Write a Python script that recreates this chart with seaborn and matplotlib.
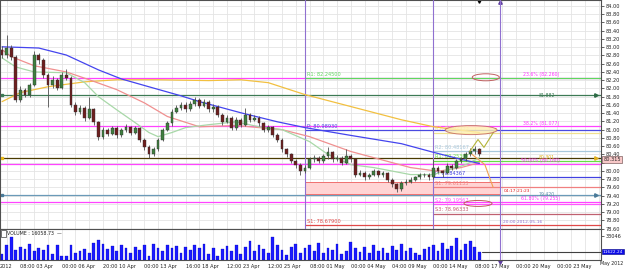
import numpy as np
import matplotlib

matplotlib.use("Agg")
import matplotlib.pyplot as plt
from matplotlib.patches import Ellipse, Rectangle
import seaborn as sns

# ---- candles (one bar per index) ----
first_open = 82.94
closes = [82.81, 82.98, 82.77, 81.73, 81.97, 81.85, 82.09, 82.81, 82.69, 82.33,
          82.09, 82.21, 82.02, 82.33, 82.26, 81.61, 81.44, 81.53, 81.29, 81.49,
          81.19, 80.81, 81.00, 80.90, 81.05, 80.86, 81.00, 81.07, 80.93, 81.03,
          80.76, 80.57, 80.40, 80.52, 80.76, 81.00, 81.15, 81.44, 81.53, 81.61,
          81.49, 81.63, 81.73, 81.58, 81.68, 81.49, 81.56, 81.36, 81.19, 81.29,
          81.05, 81.24, 81.12, 81.36, 81.24, 81.29, 81.15, 81.00, 81.07, 80.88,
          80.76, 80.52, 80.40, 80.23, 80.15, 79.99, 80.08, 80.28, 80.32, 80.23,
          80.35, 80.45, 80.28, 80.32, 80.20, 80.37, 80.28, 79.91, 79.96, 79.84,
          79.91, 79.99, 79.89, 79.94, 79.79, 79.67, 79.55, 79.70, 79.74, 79.79,
          79.84, 79.89, 79.91, 79.84, 80.08, 79.99, 79.94, 80.13, 80.08, 80.23,
          80.28, 80.40, 80.47, 80.52, 80.40]
highs = [83.02, 83.30, 83.05, 82.82, 82.05, 82.02, 82.14, 82.90, 82.86, 82.74,
         82.38, 82.30, 82.26, 82.40, 82.48, 82.30, 81.68, 81.60, 81.57, 81.80,
         81.52, 81.22, 81.06, 81.05, 81.10, 81.08, 81.05, 81.14, 81.10, 81.08,
         81.06, 80.80, 80.62, 80.58, 80.80, 81.05, 81.20, 81.50, 81.60, 81.68,
         81.66, 81.70, 81.80, 81.76, 81.74, 81.72, 81.62, 81.60, 81.40, 81.35,
         81.32, 81.30, 81.28, 81.53, 81.40, 81.35, 81.32, 81.18, 81.12, 81.10,
         80.92, 80.80, 80.56, 80.44, 80.28, 80.18, 80.14, 80.34, 80.38, 80.36,
         80.42, 80.57, 80.48, 80.38, 80.36, 80.52, 80.42, 80.30, 80.02, 80.00,
         79.96, 80.05, 80.02, 80.00, 79.97, 79.82, 79.70, 79.75, 79.80, 79.84,
         79.88, 79.94, 79.96, 79.94, 80.28, 80.12, 80.03, 80.18, 80.17, 80.28,
         80.34, 80.46, 80.55, 80.61, 80.56]
lows = [82.74, 82.75, 82.70, 81.66, 81.68, 81.78, 81.80, 82.05, 82.60, 82.26,
        81.56, 82.02, 81.95, 81.98, 82.20, 81.55, 81.36, 81.38, 81.22, 81.25,
        81.12, 80.74, 80.77, 80.84, 80.86, 80.80, 80.82, 80.95, 80.88, 80.90,
        80.70, 80.50, 80.32, 80.36, 80.48, 80.72, 80.96, 81.10, 81.40, 81.48,
        81.42, 81.45, 81.58, 81.52, 81.54, 81.44, 81.42, 81.30, 81.12, 81.15,
        80.98, 81.00, 81.06, 81.08, 81.18, 81.20, 81.08, 80.94, 80.95, 80.82,
        80.70, 80.46, 80.34, 80.18, 80.08, 79.89, 79.95, 80.04, 80.22, 80.18,
        80.20, 80.30, 80.22, 80.24, 80.15, 80.16, 80.22, 79.86, 79.87, 79.79,
        79.80, 79.88, 79.84, 79.86, 79.74, 79.62, 79.48, 79.52, 79.66, 79.70,
        79.75, 79.80, 79.85, 79.79, 79.80, 79.94, 79.84, 79.92, 80.02, 80.05,
        80.20, 80.24, 80.36, 80.42, 80.35]
volumes = [8000, 20000, 32000, 14000, 18000, 15000, 22000, 12000, 17000, 14000,
           21000, 8000, 20000, 6000, 5000, 20000, 10000, 13000, 15000, 9000,
           24000, 28000, 22000, 15000, 19000, 12000, 20000, 16000, 9000, 18000,
           14000, 20000, 6000, 22000, 17000, 12000, 21000, 16000, 19000, 10000,
           18000, 14000, 20000, 16000, 22000, 8000, 17000, 6000, 15000, 19000,
           12000, 21000, 8000, 18000, 26000, 12000, 20000, 15000, 9000, 32000,
           20000, 14000, 7000, 18000, 22000, 10000, 16000, 21000, 13000, 24000,
           9000, 17000, 14000, 22000, 8000, 12000, 25000, 16000, 11000, 18000,
           10000, 20000, 13000, 17000, 9000, 19000, 14000, 22000, 12000, 16000,
           10000, 7000, 15000, 18000, 21000, 12000, 24000, 15000, 19000, 30000,
           14000, 22000, 26000, 18000, 11622]

# ---- moving averages (bar index, price) ----
ma_blue_x = [0, 8, 14, 21, 26, 32, 39, 43, 52, 60, 66, 76, 87, 94, 100, 104]
ma_blue_y = [83.01, 82.98, 82.81, 82.45, 82.23, 82.04, 81.82, 81.68, 81.41, 81.19,
             81.05, 80.86, 80.66, 80.45, 80.28, 80.18]
ma_gold_x = [0, 4, 10, 18, 25, 34, 45, 52, 58, 66, 76, 87, 94, 104]
ma_gold_y = [81.68, 81.90, 82.04, 82.16, 82.21, 82.21, 82.19, 82.21, 82.14, 81.85,
             81.56, 81.24, 81.07, 80.93]
ma_red_x = [0, 2, 7, 14, 19, 25, 31, 36, 43, 51, 61, 67, 76, 89, 95, 100, 104]
ma_red_y = [82.94, 82.77, 82.55, 82.40, 82.21, 81.97, 81.65, 81.32, 81.07, 81.10,
            81.00, 80.83, 80.47, 80.08, 79.99, 80.08, 80.20]
ma_green_x = [0, 3, 7, 14, 18, 21, 25, 29, 32, 34, 37, 40, 45, 51, 56, 61, 67, 71,
              76, 81, 89, 94, 101, 104]
ma_green_y = [82.74, 82.52, 82.40, 82.38, 82.14, 81.80, 81.48, 81.17, 80.93, 80.83,
              80.93, 81.05, 81.12, 81.19, 81.07, 81.00, 80.71, 80.40, 80.15, 80.08,
              79.91, 79.91, 80.15, 80.32]

# ---- x axis labels ----
tick_pos = [4, 13, 22, 31, 40, 49, 58, 67, 76, 85, 94, 103, 112, 121]
tick_labels = ["08:00 03 Apr", "00:00 06 Apr", "20:00 10 Apr", "00:00 13 Apr",
               "16:00 18 Apr", "12:00 23 Apr", "12:00 25 Apr", "08:00 01 May",
               "00:00 04 May", "04:00 09 May", "00:00 14 May", "08:00 17 May",
               "00:00 20 May", "00:00 23 May"]

# ---- levels ----
fib_levels = [82.260, 81.077, 80.160, 79.255]
fib_labels = ["23.6% (82.260)", "38.2% (81.077)", "50.00% (80.160)", "61.80% (79.255)"]
weekly_pivots = [82.245, 80.9893, 78.679]
weekly_labels = ["R1: 82.24500", "P: 80.98930", "S1: 78.67900"]
weekly_colors = ["#5fd85f", "#4a4ae0", "#e04848"]
daily_pivots = [80.93, 80.48167, 80.25, 79.84367, 79.61133, 79.19567, 78.96333]
daily_labels = ["R3: 80.92733", "R2: 80.48167", "R1: 80.25367", "P: 79.84367",
                "S1: 79.61133", "S2: 79.19567", "S3: 78.96333"]
daily_colors = ["#f0e090", "#a8c8dc", "#66dd44", "#4040e0", "#f08080", "#ff55ff", "#c06070"]

line_882 = 81.84
line_bid = 80.315
line_420 = 79.42
vol_last = 11622.24

x_week = 66
x_day = 94
x_now = 108.5

sns.set_style("white")
plt.rcParams["font.family"] = ["DejaVu Sans"]

fig = plt.figure(figsize=(6.25, 2.69), dpi=100)
ax = fig.add_axes([0, 40 / 269, 601 / 625, 229 / 269])
axv = fig.add_axes([0, 9 / 269, 601 / 625, 31 / 269], sharex=ax)

xmin, xmax = -0.45, 130.5
ax.set_xlim(xmin, xmax)
ax.set_ylim(78.59, 84.145)

# grid
grid_x = np.arange(1, 131, 3)
for g in grid_x:
    ax.axvline(g, color="#e4e4e4", lw=0.6, zorder=0)
    axv.axvline(g, color="#e4e4e4", lw=0.6, zorder=0)
price_ticks = np.round(np.arange(78.60, 84.01, 0.2), 2)
for p in price_ticks:
    ax.axhline(p, color="#e4e4e4", lw=0.6, zorder=0)

# horizontal levels
for p, lab in zip(fib_levels, fib_labels):
    ax.axhline(p, color="#ff44ff", lw=0.9, zorder=2)
    ax.text(121.5, p + 0.02, lab, color="#ff33ff", fontsize=3.3, ha="right", va="bottom")

ax.axhline(line_882, color="#3d7a55", lw=0.9, zorder=2)
ax.text(120.5, line_882, "81.882", color="#3d7a55", fontsize=3.3, ha="right", va="center")
ax.plot([121, 129.5], [line_882, line_882], color="#3d7a55", lw=0.6)
ax.plot(129.5, line_882, marker=">", ms=2.5, color="#2d6a45")
ax.plot(0, line_882, marker="s", ms=2, color="#3d7a55")

ax.axhline(line_bid, color="#4a3a00", lw=0.9, zorder=2)
ax.text(120.5, line_bid + 0.01, "80.301", color="#e0b020", fontsize=3.3, ha="right", va="center")
ax.plot(129.5, line_bid, marker=">", ms=2.5, color="#e0b020")
ax.plot(0, line_bid, marker="s", ms=2, color="#e8b818")

ax.axhline(line_420, color="#6a9ab8", lw=0.9, zorder=2)
ax.text(120.5, line_420, "79.420", color="#5a8aa8", fontsize=3.3, ha="right", va="center")
ax.plot(129.5, line_420, marker=">", ms=2.5, color="#4a7a98")
ax.plot(0, line_420, marker="s", ms=2, color="#4a7a98")

# pink zone
ax.add_patch(Rectangle((x_week, 79.45), x_now - x_week, 0.27, facecolor="#ffd4d4",
                       edgecolor="none", zorder=1))
ax.plot([x_week, x_now], [79.72, 79.72], color="#f07070", lw=0.7)
ax.plot([x_week, x_now], [79.45, 79.45], color="#f07070", lw=0.7)
ax.plot([x_week, x_week], [79.45, 79.72], color="#f07070", lw=0.7)

# weekly pivots
for p, lab, c in zip(weekly_pivots, weekly_labels, weekly_colors):
    ax.plot([x_week, xmax], [p, p], color=c, lw=0.9, zorder=2)
    ax.text(x_week + 0.4, p + 0.03, lab, color=c, fontsize=3.6, ha="left", va="bottom")

# daily pivots
for p, lab, c in zip(daily_pivots, daily_labels, daily_colors):
    ax.plot([x_day, xmax], [p, p], color=c, lw=0.9, zorder=2)
    ax.text(x_day + 0.4, p + 0.03, lab, color=c, fontsize=3.6, ha="left", va="bottom")

# verticals
for xv in (x_week, x_day, x_now):
    ax.axvline(xv, color="#9070d0", lw=0.8, zorder=3)
axv.axvline(x_now, color="#9070d0", lw=0.8, zorder=3)
ax.plot(x_now, 84.10, marker="^", ms=2.5, color="#6040a0", clip_on=False)
ax.plot(104, 84.12, marker="v", ms=2.5, color="black", clip_on=False)
ax.text(x_now + 0.6, 78.70, "20:00 2012-05-16", color="#9070d0", fontsize=3.2, va="bottom")
ax.text(x_now + 0.8, 79.47, "04:17:21:23", color="#e02020", fontsize=3.2, va="bottom")

# moving averages
sns.lineplot(x=ma_gold_x, y=ma_gold_y, ax=ax, color="#f2c040", lw=0.9, zorder=3)
sns.lineplot(x=ma_red_x, y=ma_red_y, ax=ax, color="#f09090", lw=0.9, zorder=3)
sns.lineplot(x=ma_green_x, y=ma_green_y, ax=ax, color="#a8d8a8", lw=0.9, zorder=3)
sns.lineplot(x=ma_blue_x, y=ma_blue_y, ax=ax, color="#4444ee", lw=0.9, zorder=3)

# candles
opens = [first_open] + closes[:-1]
idx = np.arange(len(closes))
for i in idx:
    o, c = opens[i], closes[i]
    col = "#3f7f3f" if c >= o else "#6e1f1f"
    ax.vlines(i, lows[i], highs[i], color="#505050", lw=0.6, zorder=4)
    ax.add_patch(Rectangle((i - 0.3, min(o, c)), 0.6, max(abs(c - o), 0.01),
                           facecolor=col, edgecolor="#303030", lw=0.3, zorder=5))

# projection lines and ellipses
ax.plot([101.9, 103.7, 105.0, 107.6], [80.47, 80.76, 80.57, 81.03], color="#b4b43a", lw=0.8, zorder=6)
ax.plot([102.4, 105.2, 107.0], [80.40, 80.15, 79.60], color="#f0a050", lw=0.8, zorder=6)
ax.add_patch(Ellipse((105.4, 82.27), 5.9, 0.17, facecolor="none", edgecolor="#c06060", lw=0.7, zorder=6))
ax.add_patch(Ellipse((102.2, 80.99), 11.3, 0.22, facecolor="#fff0b0", alpha=0.8,
                     edgecolor="#c06060", lw=0.7, zorder=6))
ax.add_patch(Ellipse((103.7, 79.21), 6.1, 0.145, facecolor="none", edgecolor="#c06060", lw=0.7, zorder=6))

# right price axis (80.20 label sits under the bid box)
ax.yaxis.tick_right()
ax.set_yticks(price_ticks)
ax.set_yticklabels(["" if abs(p - 80.20) < 1e-6 else f"{p:.2f}" for p in price_ticks],
                   fontsize=3.6, color="#202020")
ax.tick_params(axis="y", length=2, width=0.5, pad=1.5, right=True)
ax.tick_params(axis="x", bottom=False, labelbottom=False)
ax.text(1.004, line_bid - 0.04, "80.315", transform=ax.get_yaxis_transform(), fontsize=3.6,
        va="center", ha="left", bbox=dict(boxstyle="square,pad=0.2", fc="#f8c8c8", ec="#604040", lw=0.4))
for s in ax.spines.values():
    s.set_color("#505050")
    s.set_linewidth(0.8)

# volume panel
axv.bar(idx, volumes, width=0.6, color="#1a1aff", edgecolor="#0000aa", lw=0.2, zorder=3)
axv.set_ylim(0, 42700)
axv.plot([idx[-1] + 0.5, xmax], [vol_last, vol_last], color="#404040", lw=0.8)
axv.yaxis.tick_right()
axv.set_yticks([33046])
axv.set_yticklabels(["33046"], fontsize=3.6, color="#202020")
axv.tick_params(axis="y", length=2, width=0.5, pad=1.5)
axv.text(1.003, vol_last, "11622.24", transform=axv.get_yaxis_transform(), fontsize=3.1,
         color="white", va="center", ha="left",
         bbox=dict(boxstyle="square,pad=0.15", fc="#0a0ae8", ec="#000080", lw=0.4))
axv.text(0.012, 0.86, "VOLUME : 16058.73  \u2014", transform=axv.transAxes, fontsize=3.4,
         color="#202020", va="center", ha="left")
axv.add_patch(Rectangle((0.002, 0.74), 0.008, 0.24, transform=axv.transAxes, fill=False,
                        edgecolor="#404040", lw=0.5))
axv.plot(x_now, -2500, marker="v", ms=2.5, color="#6040a0", clip_on=False)
for s in axv.spines.values():
    s.set_color("#505050")
    s.set_linewidth(0.8)

axv.set_xticks(tick_pos)
axv.set_xticklabels(tick_labels, fontsize=3.6, ha="left", color="#202020")
axv.tick_params(axis="x", length=2, width=0.5, pad=1)
axv.text(0.0, -0.12, "2012", transform=axv.transAxes, fontsize=3.6, va="top", ha="left")
fig.text(0.998, 0.012, "May 2012", fontsize=3.4, va="bottom", ha="right", color="#202020")

fig.savefig("out.png", dpi=100)
